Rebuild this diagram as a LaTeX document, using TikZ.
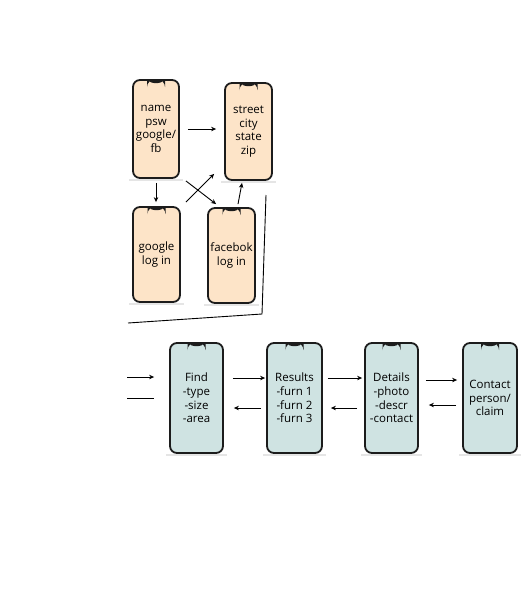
\documentclass[tikz,border=0pt]{standalone}
\usepackage{fontspec}
\setmainfont{Open Sans}
\usetikzlibrary{arrows.meta}
\definecolor{peach}{HTML}{FDE4C8}
\definecolor{mint}{HTML}{CFE3E2}
\definecolor{edge}{HTML}{1C1C1C}
\tikzset{
  phone/.style={draw=edge, line width=1.8pt, rounded corners=7pt, align=center,
    font=\fontsize{11.5}{13.7}\selectfont, inner sep=0pt,
    path picture={\fill[edge] ([xshift=-9pt]path picture bounding box.north) rectangle ([xshift=9pt,yshift=-3pt]path picture bounding box.north);}},
  toprow/.style={phone, fill=peach, minimum width=47pt, minimum height=96pt},
  botrow/.style={phone, fill=mint, minimum width=54pt, minimum height=110pt},
  arr/.style={line width=0.9pt, -{Stealth[length=5pt,width=4.5pt]}},
  plain/.style={line width=0.9pt},
}
\begin{document}
\begin{tikzpicture}[x=1pt,y=-1pt]
\useasboundingbox[fill=white] (0,0) rectangle (529,600);
% shadows
\foreach \cx/\cy/\w/\h in {156/129/46/98, 248.5/131.5/47/97, 156.5/254.5/47/95, 231.5/255.5/47/95, 196.5/398/53/110, 294.5/398/55/110, 391.5/398/53/110, 490/398/54/110}
  \fill[black!10] (\cx-\w/2-4,\cy+\h/2+1) rectangle (\cx+\w/2+4,\cy+\h/2+3);
% top phones
\node[toprow, minimum width=46pt, minimum height=98pt] (p1) at (156,129) {name\\psw\\google/\\fb};
\node[toprow, minimum height=97pt] (p2) at (248.5,131.5) {street\\city\\state\\zip};
\node[toprow, minimum height=95pt] (p3) at (156.5,254.5) {google\\log in};
\node[toprow, minimum height=95pt] (p4) at (231.5,255.5) {facebok\\log in};
% bottom phones
\node[botrow, minimum width=53pt] (find) at (196.5,398) {Find\\-type\\-size\\-area};
\node[botrow, minimum width=55pt] (res) at (294.5,398) {Results\\-furn 1\\-furn 2\\-furn 3};
\node[botrow, minimum width=53pt] (det) at (391.5,398) {Details\\-photo\\-descr\\-contact};
\node[botrow] (con) at (490,398) {Contact\\person/\\claim};
% top arrows
\draw[arr, shorten <=8pt, shorten >=8pt] (p1.east) -- (p1.east -| p2.west);
\draw[arr, shorten <=4pt, shorten >=4pt] (p1.south) -- (p1.south |- p3.north);
\draw[arr] ([xshift=6pt,yshift=-2pt]p1.south east) -- ([xshift=9pt,yshift=3pt]p4.north west);
\draw[arr] ([xshift=5pt,yshift=4pt]p3.north east) -- ([xshift=-10pt,yshift=7pt]p2.south west);
\draw[arr] ([xshift=6.5pt,yshift=3pt]p4.north) -- ([xshift=-6.5pt,yshift=-2pt]p2.south);
% long bracket line
\coordinate (l1) at (266,195);
\coordinate (l2) at (262,314);
\coordinate (l3) at (128,323);
\draw[plain] (l1) -- (l2) -- (l3);
% incoming lines
\coordinate (in1) at (127,377);
\coordinate (in2) at (127,398);
\draw[arr, shorten >=15pt] (in1) -- (in1 -| find.west);
\draw[plain, shorten >=15pt] (in2) -- (in2 -| find.west);
% bottom arrows
\coordinate (a1) at (0,378);
\coordinate (a2) at (0,408);
\coordinate (a3) at (0,380);
\coordinate (a4) at (0,405);
\draw[arr, shorten <=9pt, shorten >=1pt] (a1 -| find.east) -- (a1 -| res.west);
\draw[arr, shorten <=5pt, shorten >=10pt] (a2 -| res.west) -- (a2 -| find.east);
\draw[arr, shorten <=5pt, shorten >=2pt] (a1 -| res.east) -- (a1 -| det.west);
\draw[arr, shorten <=7pt, shorten >=8pt] (a2 -| det.west) -- (a2 -| res.east);
\draw[arr, shorten <=7pt, shorten >=5pt] (a3 -| det.east) -- (a3 -| con.west);
\draw[arr, shorten <=6pt, shorten >=10pt] (a4 -| con.west) -- (a4 -| det.east);
\end{tikzpicture}
\end{document}
